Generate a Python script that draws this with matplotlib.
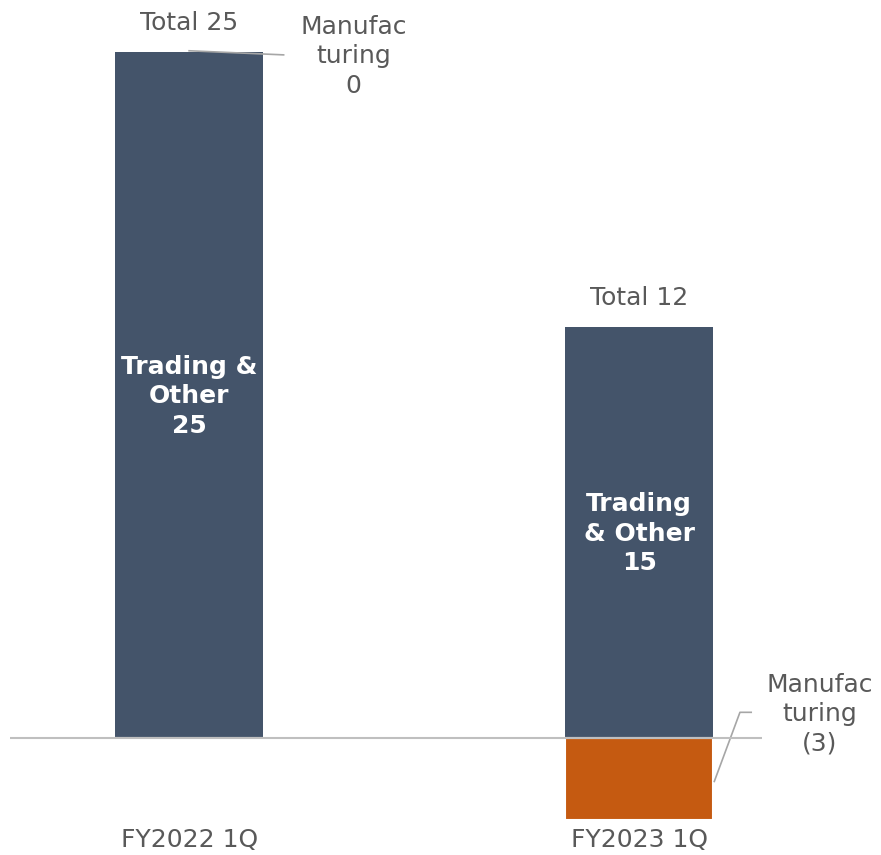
import matplotlib.pyplot as plt

plt.rcParams['font.family'] = ['DejaVu Sans']

# data
categories = ['FY2022 1Q', 'FY2023 1Q']
trading = [25, 15]
manufacturing = [0, -3]
totals = [25, 12]
trading_labels = ['Trading &\nOther\n25', 'Trading\n& Other\n15']
manuf_labels = ['Manufac\nturing\n0', 'Manufac\nturing\n(3)']

blue = '#44546A'
orange = '#C55A11'
grey_txt = '#595959'
grey_line = '#BFBFBF'
fs = 18

fig = plt.figure(figsize=(8.81, 8.55), dpi=100)
ax = fig.add_axes([10/881, 0, 752/881, 1])
ax.set_xlim(-0.398, 1.273)
ax.set_ylim(-4.26, 26.9)
ax.axis('off')

x = [0, 1]
w = 0.329
ax.bar(x, trading, width=w, color=blue)
ax.bar(x, manufacturing, width=w, color=orange, edgecolor='white', linewidth=1.5)
ax.axhline(0, color=grey_line, lw=1.5, zorder=3)

for i in range(2):
    top = max(trading[i], 0)
    ax.text(x[i], top + 1.05, 'Total %d' % totals[i], ha='center', va='center',
            fontsize=fs, color=grey_txt)
    ax.text(x[i], trading[i] / 2 - 0.05, trading_labels[i], ha='center', va='center',
            fontsize=fs, color='white', fontweight='semibold', linespacing=1.3)
    ax.text(x[i], -3.72, categories[i], ha='center', va='center', fontsize=fs, color=grey_txt)

# manufacturing labels with leader lines
ax.text(0.365, 24.85, manuf_labels[0], ha='center', va='center', fontsize=fs,
        color=grey_txt, linespacing=1.3)
ax.plot([0.0, 0.21], [25.05, 24.9], color='#A6A6A6', lw=1.2)

ax.text(1.402, 0.87, manuf_labels[1], ha='center', va='center', fontsize=fs,
        color=grey_txt, linespacing=1.3, clip_on=False)
ax.plot([1.167, 1.224, 1.249], [-1.58, 0.94, 0.94], color='#A6A6A6', lw=1.2, clip_on=False)

plt.savefig('out.png')
